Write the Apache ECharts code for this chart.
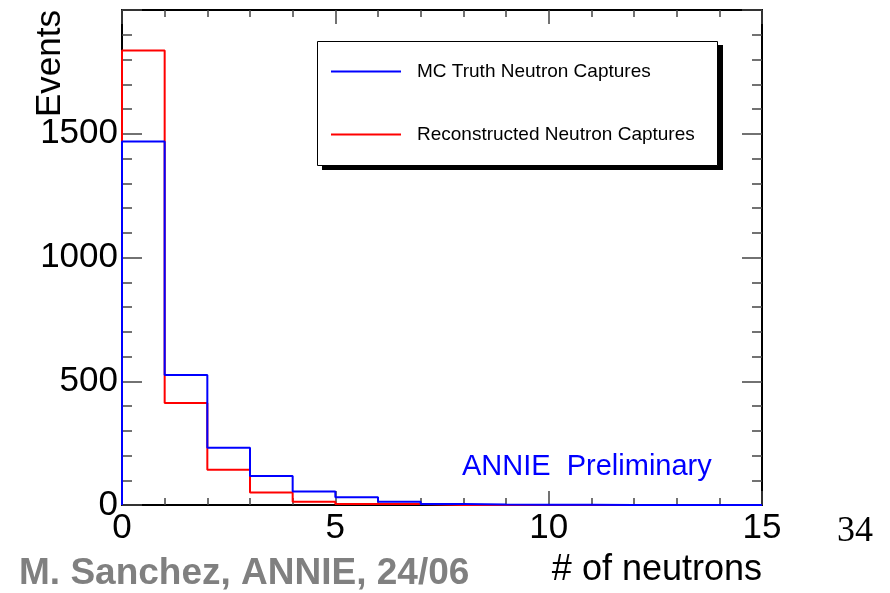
<!DOCTYPE html>
<html>
<head>
<meta charset="utf-8">
<script src="https://cdn.jsdelivr.net/npm/echarts@6/dist/echarts.min.js"></script>
<style>html,body{margin:0;padding:0;background:#fff;}#chart{width:890px;height:593px;}</style>
</head>
<body>
<div id="chart"></div>
<script>
// ---- data ----
const binEdges = [0,1,2,3,4,5,6,7,8,9,10,11,12,13,14,15];
const mcTruthCounts = [1469, 525, 231, 117, 55, 31, 13, 4, 2, 1, 1, 0, 0, 0, 0];
const recoCounts    = [1836, 412, 142, 51, 13, 4, 4, 0, 0, 0, 0, 0, 0, 0, 0];
const xTickLabels = [0, 5, 10, 15];
const yTickLabels = [0, 500, 1000, 1500];
const seriesNames = ['MC Truth Neutron Captures', 'Reconstructed Neutron Captures'];

const FONT = '"Liberation Sans", Arial, Helvetica, sans-serif';

function outline(vals) {
  const pts = [[binEdges[0], 0]];
  vals.forEach((v, i) => { pts.push([binEdges[i], v]); pts.push([binEdges[i + 1], v]); });
  pts.push([binEdges[binEdges.length - 1], 0]);
  return pts;
}

const tickStyle = { color: '#444', width: 1.5 };
const frameStyle = { color: '#000', width: 2 };

function xAx(pos, showLabels) {
  return {
    type: 'value', position: pos, min: 0, max: 15, interval: 5,
    axisLine: { show: true, onZero: false, lineStyle: frameStyle },
    axisTick: { show: true, inside: true, length: 14, lineStyle: tickStyle },
    minorTick: { show: true, splitNumber: 5, length: 7, lineStyle: tickStyle },
    splitLine: { show: false }, minorSplitLine: { show: false },
    axisLabel: {
      show: showLabels, fontSize: 35, fontFamily: FONT, color: '#000', margin: 6,
      formatter: v => (xTickLabels.indexOf(v) >= 0 ? String(v) : '')
    }
  };
}
function yAx(pos, showLabels) {
  return {
    type: 'value', position: pos, min: 0, max: 2000, interval: 500,
    axisLine: { show: true, onZero: false, lineStyle: frameStyle },
    axisTick: { show: true, inside: true, length: 20, lineStyle: tickStyle },
    minorTick: { show: true, splitNumber: 5, length: 10, lineStyle: tickStyle },
    splitLine: { show: false }, minorSplitLine: { show: false },
    axisLabel: {
      show: showLabels, fontSize: 35, fontFamily: FONT, color: '#000', margin: 4,
      showMaxLabel: false,
      formatter: v => (yTickLabels.indexOf(v) >= 0 ? String(v) : '')
    }
  };
}

const chart = echarts.init(document.getElementById('chart'), null, { renderer: 'canvas' });
chart.setOption({
  animation: false,
  backgroundColor: '#fff',
  grid: { left: 122, right: 128, top: 10, bottom: 88, containLabel: false },
  xAxis: [xAx('bottom', true), xAx('top', false)],
  yAxis: [yAx('left', true), yAx('right', false)],
  legend: {
    data: seriesNames,
    orient: 'vertical',
    left: 317, top: 41,
    padding: [21, 0, 0, 14],
    itemGap: 44,
    itemWidth: 70, itemHeight: 2,
    icon: 'rect',
    backgroundColor: 'transparent',
    borderWidth: 0,
    selectedMode: false,
    z: 10,
    textStyle: { fontSize: 19, fontFamily: FONT, color: '#000', padding: [0, 0, 0, 11] }
  },
  series: [
    {
      name: seriesNames[1], type: 'line', data: outline(recoCounts),
      xAxisIndex: 0, yAxisIndex: 0, symbol: 'none', showSymbol: false,
      lineStyle: { color: '#ff0000', width: 2 }, itemStyle: { color: '#ff0000' }, z: 3
    },
    {
      name: seriesNames[0], type: 'line', data: outline(mcTruthCounts),
      xAxisIndex: 0, yAxisIndex: 0, symbol: 'none', showSymbol: false,
      lineStyle: { color: '#0000ff', width: 2 }, itemStyle: { color: '#0000ff' }, z: 4
    }
  ],
  graphic: [
    // legend frame with hard drop shadow (ROOT style)
    { type: 'rect', z: 5, shape: { x: 322, y: 45, width: 401, height: 125 }, style: { fill: '#000' } },
    { type: 'rect', z: 6, shape: { x: 317.5, y: 41.5, width: 400, height: 124 }, style: { fill: '#fff', stroke: '#000', lineWidth: 1 } },
    { type: 'text', x: 50, y: 10, rotation: Math.PI / 2,
      style: { text: 'Events', font: '35px ' + FONT, fill: '#000', textAlign: 'right', verticalAlign: 'middle' } },
    { type: 'text', x: 762, y: 570,
      style: { text: '# of neutrons', font: '36px ' + FONT, fill: '#000', textAlign: 'right', verticalAlign: 'middle' } },
    { type: 'text', x: 462, y: 467,
      style: { text: 'ANNIE  Preliminary', font: '29px ' + FONT, fill: '#0000ff', textAlign: 'left', verticalAlign: 'middle' } },
    { type: 'text', x: 873, y: 532,
      style: { text: '34', font: '36px "Liberation Serif", "Times New Roman", serif', fill: '#000', textAlign: 'right', verticalAlign: 'middle' } },
    { type: 'text', x: 19, y: 574,
      style: { text: 'M. Sanchez, ANNIE, 24/06', font: 'bold 37px ' + FONT, fill: '#808080', textAlign: 'left', verticalAlign: 'middle' } }
  ]
});
</script>
</body>
</html>
